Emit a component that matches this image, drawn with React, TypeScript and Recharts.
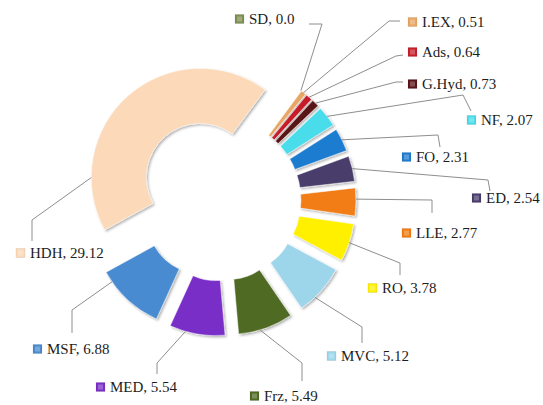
import React from 'react';
import { PieChart, Pie, Sector } from 'recharts';

const CATEGORIES = ['SD', 'I.EX', 'Ads', 'G.Hyd', 'NF', 'FO', 'ED', 'LLE', 'RO', 'MVC', 'Frz', 'MED', 'MSF', 'HDH'];
const VALUES = [0.0, 0.51, 0.64, 0.73, 2.07, 2.31, 2.54, 2.77, 3.78, 5.12, 5.49, 5.54, 6.88, 29.12];
const VALUE_LABELS = ['0.0', '0.51', '0.64', '0.73', '2.07', '2.31', '2.54', '2.77', '3.78', '5.12', '5.49', '5.54', '6.88', '29.12'];
const COLORS = [
  '#7E9050', '#E8A563', '#C61F2B', '#5A1517', '#48DCEA', '#1F7BCF', '#4A3C6C',
  '#F27B12', '#FFF000', '#9DD6EA', '#4F6A22', '#7A2FC8', '#4A8BD0', '#FCD9B8',
];

// label placement (page pixels): marker left/centre, leader elbow, leader end, anchor fraction on slice
const LABEL_LAYOUT = [
  { mx: 235, my: 19, ex: 322, ey: 24, lx: 309, ly: 24, f: 0.5 },
  { mx: 408, my: 22, ex: 389, ey: 21, lx: 400, ly: 21, f: 0.5 },
  { mx: 408, my: 52, ex: 396, ey: 56, lx: 403, ly: 55, f: 0.5 },
  { mx: 408, my: 84, ex: 396, ey: 82, lx: 403, ly: 82, f: 0.5 },
  { mx: 467, my: 120, ex: 463, ey: 95, lx: 471, ly: 111, f: 0.5 },
  { mx: 402, my: 157, ex: 438, ey: 135, lx: 440, ly: 147, f: 0.5 },
  { mx: 472, my: 198, ex: 488, ey: 180, lx: 490, ly: 191, f: 0.5 },
  { mx: 402, my: 233, ex: 432, ey: 200, lx: 432, ly: 213, f: 0.4 },
  { mx: 368, my: 288, ex: 400, ey: 263, lx: 400, ly: 275, f: 0.5 },
  { mx: 327, my: 356, ex: 362, ey: 327, lx: 362, ly: 343, f: 0.67 },
  { mx: 250, my: 396, ex: 302, ey: 363, lx: 302, ly: 381, f: 0.61 },
  { mx: 96, my: 387, ex: 157, ey: 363, lx: 157, ly: 374, f: 0.71 },
  { mx: 33, my: 349, ex: 72, ey: 310, lx: 72, ly: 333, f: 0.84 },
  { mx: 16, my: 253, ex: 32, ey: 220, lx: 32, ly: 241, f: 0.185 },
];

const data = CATEGORIES.map((name, i) => ({ name, value: VALUES[i] }));

const RAD = Math.PI / 180;
const EXPLODE = 27;
const EXPLODE_LAST = 30;
const FONT = '"Liberation Serif", "Times New Roman", Times, serif';

function polar(cx: number, cy: number, r: number, angle: number) {
  return { x: cx + r * Math.cos(-angle * RAD), y: cy + r * Math.sin(-angle * RAD) };
}

function renderSlice(props: any) {
  const { cx, cy, innerRadius, outerRadius, startAngle, endAngle, index } = props;
  const mid = (startAngle + endAngle) / 2;
  const ex = index === CATEGORIES.length - 1 ? EXPLODE_LAST : EXPLODE;
  const c = polar(cx, cy, ex, mid);
  const L = LABEL_LAYOUT[index];
  const anchorAngle = startAngle + L.f * (endAngle - startAngle);
  const s = polar(c.x, c.y, outerRadius, anchorAngle);
  const color = COLORS[index];
  return (
    <g key={`slice-${index}`}>
      {Math.abs(endAngle - startAngle) > 0.01 && (
        <Sector
          cx={c.x}
          cy={c.y}
          innerRadius={innerRadius}
          outerRadius={outerRadius}
          startAngle={startAngle}
          endAngle={endAngle}
          fill={color}
          stroke="rgba(255,255,255,0.45)"
          strokeWidth={1}
          filter="url(#sliceShadow)"
        />
      )}
      <polyline
        points={`${s.x},${s.y} ${L.ex},${L.ey} ${L.lx},${L.ly}`}
        fill="none"
        stroke="#8e8e8e"
        strokeWidth={1}
      />
      <rect x={L.mx} y={L.my - 4.5} width={9} height={9} fill={color} stroke="rgba(0,0,0,0.15)" strokeWidth={0.5} />
      <rect x={L.mx + 2} y={L.my - 2.5} width={5} height={5} fill="rgba(255,255,255,0.25)" />
      <text
        x={L.mx + 14}
        y={L.my}
        dominantBaseline="central"
        style={{ fontFamily: FONT, fontSize: 15 }}
        fill="#1d1d1d"
      >
        {`${CATEGORIES[index]}, ${VALUE_LABELS[index]}`}
      </text>
    </g>
  );
}

export default function App() {
  return (
    <div style={{ position: 'absolute', left: 0, top: 0, width: 543, height: 405, background: '#fff', fontFamily: FONT }}>
      <svg width={0} height={0} style={{ position: 'absolute' }}>
        <defs>
          <filter id="sliceShadow" x="-20%" y="-20%" width="140%" height="140%">
            <feDropShadow dx={1.5} dy={1.5} stdDeviation={1.2} floodColor="#000" floodOpacity={0.3} />
          </filter>
        </defs>
      </svg>
      <PieChart width={543} height={405} margin={{ top: 0, right: 0, bottom: 0, left: 0 }}>
        <Pie
          data={data}
          dataKey="value"
          nameKey="name"
          cx={220}
          cy={200}
          innerRadius={54}
          outerRadius={109}
          startAngle={53.5}
          endAngle={-306.5}
          fill="none"
          stroke="none"
          label={renderSlice}
          labelLine={false}
          isAnimationActive={false}
        />
      </PieChart>
    </div>
  );
}
